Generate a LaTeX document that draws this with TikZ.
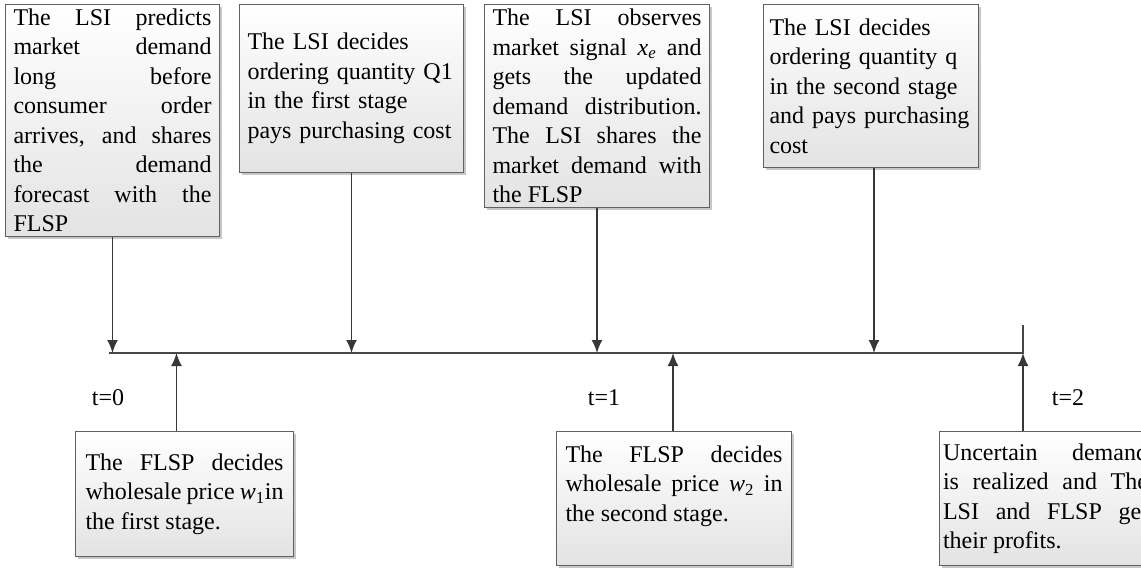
\documentclass[tikz,border=0pt]{standalone}
\usepackage{fontspec}
\setmainfont{Liberation Serif}
\usetikzlibrary{arrows.meta,shadows}
\begin{document}
\begin{tikzpicture}[x=1pt,y=-1pt,
  txt/.style={font=\fontsize{24}{29.5}\selectfont},
  box/.style={txt, draw=black!62, line width=1pt, top color=white, bottom color=black!11,
    drop shadow={shadow xshift=2pt,shadow yshift=-2pt,fill=black!40,opacity=0.55},
    anchor=north west, inner ysep=0pt,
    execute at begin node={\tolerance=10000\hyphenpenalty=10000}},
  arr/.style={draw=black!78, line width=1.8pt, -{Latex[length=13pt,width=11pt]}},
  axisline/.style={draw=black!72, line width=1.8pt}]
\useasboundingbox (0,0) rectangle (1141,568);
\clip (0,0) rectangle (1141,568);
\fill[white] (0,0) rectangle (1141,568);

% events above the time line
\node[box, minimum width=214pt, minimum height=232pt, text width=198pt, inner xsep=8pt, align=justify] (b1) at (5,4)
  {The LSI predicts\linebreak market demand\linebreak long before\linebreak consumer order\linebreak arrives, and shares\linebreak the demand\linebreak forecast with the\linebreak FLSP};
\node[box, minimum width=224pt, minimum height=168pt, text width=208pt, inner xsep=8pt, align=left] (b2) at (239,4)
  {The LSI decides\\ ordering quantity Q1\\ in the first stage\\ pays purchasing cost};
\node[box, minimum width=225pt, minimum height=203pt, text width=209pt, inner xsep=8pt, align=justify] (b3) at (484,4)
  {The LSI observes\linebreak market signal {\itshape x}\textsubscript{\itshape e} and\linebreak gets the updated\linebreak demand distribution.\linebreak The LSI shares the\linebreak market demand with\linebreak the FLSP};
\node[box, minimum width=215pt, minimum height=163pt, text width=203pt, inner xsep=6pt, align=left] (b4) at (763,4)
  {The LSI decides\\ ordering quantity q\\ in the second stage\\ and pays purchasing\\ cost};

% events below the time line
\node[box, minimum width=218pt, minimum height=125pt, text width=198pt, inner xsep=10pt, align=justify] (w1) at (75,431)
  {The FLSP decides\linebreak wholesale price {\itshape w}\textsubscript{1}in\linebreak the first stage.};
\node[box, minimum width=235pt, minimum height=134pt, text width=217pt, inner xsep=9pt, align=justify] (w2) at (556,431)
  {The FLSP decides\linebreak wholesale price {\itshape w}\textsubscript{2} in\linebreak the second stage.\rule[-30pt]{0pt}{30pt}};
\node[box, minimum width=212pt, minimum height=134pt, text width=205pt, inner xsep=3.5pt, align=justify] (w3) at (939,431)
  {Uncertain demand\linebreak is realized and The\linebreak LSI and FLSP get\linebreak their profits.};

% time line
\coordinate (tstart) at (109,353);
\coordinate (tend) at (1023,353);
\coordinate (tick) at (1023,325);
\draw[axisline] (tstart) -- (tend) -- (tick);

% period labels
\node[txt] (l0) at (108,398) {t=0};
\node[txt] (l1) at (604,398) {t=1};
\node[txt] (l2) at (1068,398) {t=2};

% arrows onto the time line
\draw[arr] (b1.south) -- (b1.south |- tstart);
\draw[arr] (b2.south) -- (b2.south |- tstart);
\draw[arr] (b3.south) -- (b3.south |- tstart);
\draw[arr] ([xshift=3pt]b4.south) -- ([xshift=3pt]b4.south |- tstart);
\draw[arr] ([xshift=-8pt]w1.north) -- ([xshift=-8pt]w1.north |- tstart);
\draw[arr] ([xshift=-1pt]w2.north) -- ([xshift=-1pt]w2.north |- tstart);
\draw[arr] (w3.north west -| tend) -- (tend);
\end{tikzpicture}
\end{document}
